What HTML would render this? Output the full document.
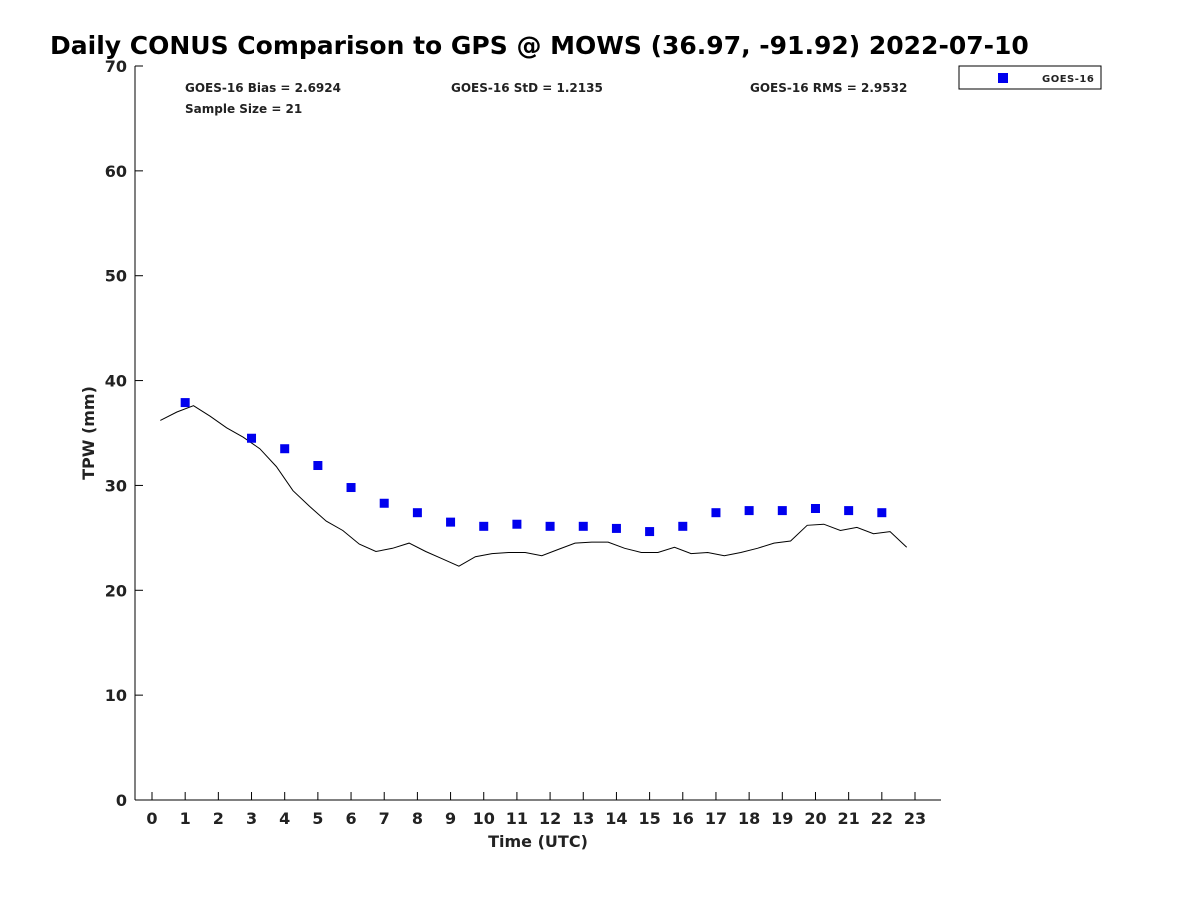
<!DOCTYPE html>
<html><head><meta charset="utf-8"><style>
body{margin:0;background:#fff}
svg text{font-family:"DejaVu Sans","Liberation Sans",sans-serif;font-weight:bold;fill:#222}
</style></head><body>
<svg id="c" width="1200" height="900" xmlns="http://www.w3.org/2000/svg">
<text x="50" y="54" font-size="25" fill="#000" style="fill:#000">Daily CONUS Comparison to GPS @ MOWS (36.97, -91.92) 2022-07-10</text>
<text x="185" y="92" font-size="12">GOES-16 Bias = 2.6924</text>
<text x="451" y="92" font-size="12">GOES-16 StD = 1.2135</text>
<text x="750" y="92" font-size="12">GOES-16 RMS = 2.9532</text>
<text x="185" y="113" font-size="12">Sample Size = 21</text>
<g>
<rect x="959" y="66" width="142" height="23" fill="#fff" stroke="#000" stroke-width="1"/>
<rect x="998" y="73" width="10" height="10" fill="#0000ee"/>
<text x="1042" y="82" font-size="10" letter-spacing="0.5">GOES-16</text>
</g>
<g id="axes"></g>
<g id="marks"></g>
<text x="538" y="847" font-size="16" text-anchor="middle">Time (UTC)</text>
<text transform="translate(94,433) rotate(-90)" font-size="16" text-anchor="middle">TPW (mm)</text>
</svg>
<script>
const gpsTimes=[0.25,0.75,1.25,1.75,2.25,2.75,3.25,3.75,4.25,4.75,5.25,5.75,6.25,6.75,7.25,7.75,8.25,8.75,9.25,9.75,10.25,10.75,11.25,11.75,12.25,12.75,13.25,13.75,14.25,14.75,15.25,15.75,16.25,16.75,17.25,17.75,18.25,18.75,19.25,19.75,20.25,20.75,21.25,21.75,22.25,22.75];
const gpsValues=[36.2,37.0,37.6,36.6,35.5,34.6,33.5,31.8,29.5,28.0,26.6,25.7,24.4,23.7,24.0,24.5,23.7,23.0,22.3,23.2,23.5,23.6,23.6,23.3,23.9,24.5,24.6,24.6,24.0,23.6,23.6,24.1,23.5,23.6,23.3,23.6,24.0,24.5,24.7,26.2,26.3,25.7,26.0,25.4,25.6,24.1];
const goesHours=[1,3,4,5,6,7,8,9,10,11,12,13,14,15,16,17,18,19,20,21,22];
const goesValues=[37.9,34.5,33.5,31.9,29.8,28.3,27.4,26.5,26.1,26.3,26.1,26.1,25.9,25.6,26.1,27.4,27.6,27.6,27.8,27.6,27.4];
const xTicks=[0,1,2,3,4,5,6,7,8,9,10,11,12,13,14,15,16,17,18,19,20,21,22,23];
const yTicks=[0,10,20,30,40,50,60,70];
const NS='http://www.w3.org/2000/svg';
const X=t=>152+t*(763/23);
const Y=v=>800-v*(734/70);
function mk(tag,attrs,parent){const e=document.createElementNS(NS,tag);for(const k in attrs)e.setAttribute(k,attrs[k]);parent.appendChild(e);return e;}
const ax=document.getElementById('axes'),mg=document.getElementById('marks');
let l=mk('line',{x1:135,y1:66,x2:135,y2:800,stroke:'#000'},ax);


l=mk('line',{x1:135,y1:800,x2:941,y2:800,stroke:'#000'},ax);


yTicks.forEach(v=>{const y=Y(v);
 const t=mk('line',{x1:135,y1:y,x2:143,y2:y,stroke:'#000'},ax);
 
 
 const s=mk('text',{x:127,y:y+6,'font-size':16,'text-anchor':'end'},ax);s.textContent=v;
 
 
});
xTicks.forEach(h=>{const x=X(h);
 const t=mk('line',{x1:x,y1:800,x2:x,y2:792,stroke:'#000'},ax);
 
 
 const s=mk('text',{x:x,y:824,'font-size':16,'text-anchor':'middle'},ax);s.textContent=h;
 
 
});
const pts=gpsTimes.map((t,i)=>X(t).toFixed(1)+','+Y(gpsValues[i]).toFixed(1)).join(' ');
const pl=mk('polyline',{points:pts,fill:'none',stroke:'#000','stroke-width':1},mg);


goesHours.forEach((h,i)=>{
 const r=mk('rect',{x:X(h)-4.5,y:Y(goesValues[i])-4.5,width:9,height:9,fill:'#0000ee'},mg);
 
 
});
</script>
</body></html>
